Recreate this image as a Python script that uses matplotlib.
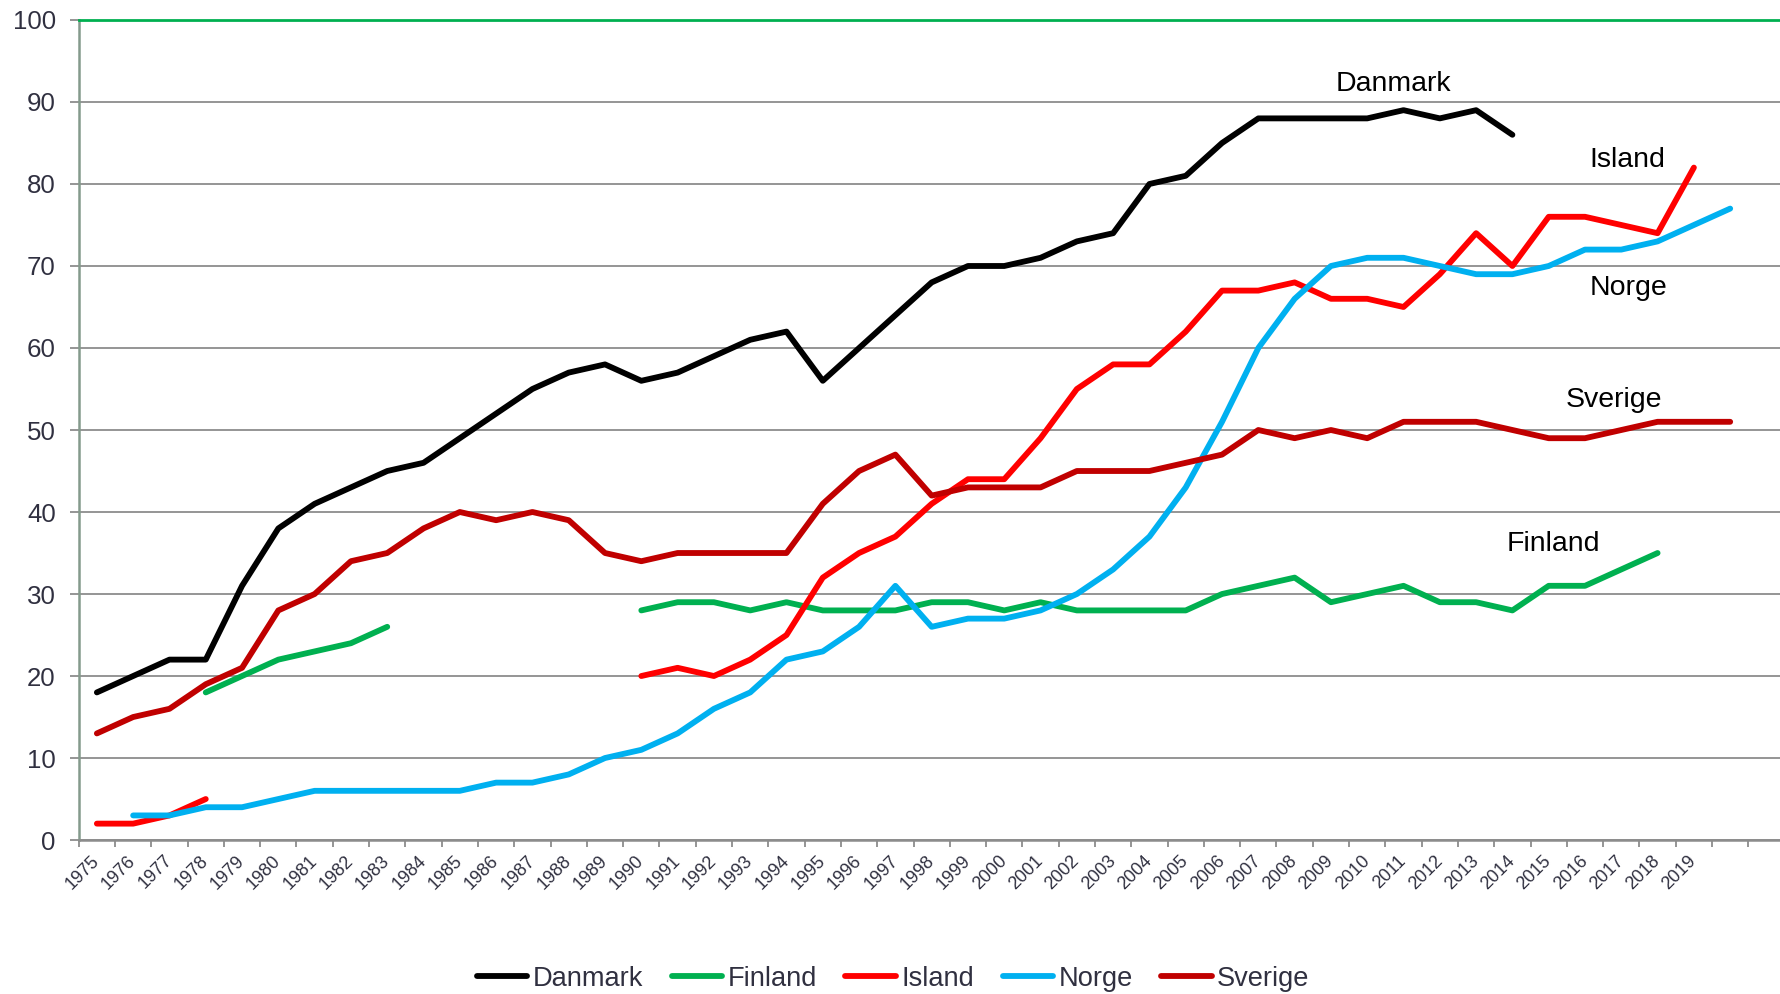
import numpy as np
import matplotlib
matplotlib.use("Agg")
import matplotlib.pyplot as plt

plt.rcParams['font.family'] = ['Liberation Sans', 'DejaVu Sans']

nan = np.nan
years = [str(y) for y in range(1975, 2020)] + ['']

danmark = [18, 20, 22, 22, 31, 38, 41, 43, 45, 46, 49, 52, 55, 57, 58, 56, 57, 59, 61, 62,
           56, 60, 64, 68, 70, 70, 71, 73, 74, 80, 81, 85, 88, 88, 88, 88, 89, 88, 89, 86,
           nan, nan, nan, nan, nan, nan]
finland = [nan, nan, nan, 18, 20, 22, 23, 24, 26, nan, nan, nan, nan, nan, nan, 28, 29, 29, 28, 29,
           28, 28, 28, 29, 29, 28, 29, 28, 28, 28, 28, 30, 31, 32, 29, 30, 31, 29, 29, 28,
           31, 31, 33, 35, nan, nan]
island = [2, 2, 3, 5, nan, nan, nan, nan, nan, nan, nan, nan, nan, nan, nan, 20, 21, 20, 22, 25,
          32, 35, 37, 41, 44, 44, 49, 55, 58, 58, 62, 67, 67, 68, 66, 66, 65, 69, 74, 70,
          76, 76, 75, 74, 82, nan]
norge = [nan, 3, 3, 4, 4, 5, 6, 6, 6, 6, 6, 7, 7, 8, 10, 11, 13, 16, 18, 22,
         23, 26, 31, 26, 27, 27, 28, 30, 33, 37, 43, 51, 60, 66, 70, 71, 71, 70, 69, 69,
         70, 72, 72, 73, 75, 77]
sverige = [13, 15, 16, 19, 21, 28, 30, 34, 35, 38, 40, 39, 40, 39, 35, 34, 35, 35, 35, 35,
           41, 45, 47, 42, 43, 43, 43, 45, 45, 45, 46, 47, 50, 49, 50, 49, 51, 51, 51, 50,
           49, 49, 50, 51, 51, 51]

series = [("Danmark", danmark, "#000000"),
          ("Finland", finland, "#00b050"),
          ("Island", island, "#ff0000"),
          ("Norge", norge, "#00b0f0"),
          ("Sverige", sverige, "#c00000")]

# label name, x (category index), y (baseline value)
labels = [("Danmark", 35.73, 91.3), ("Island", 42.17, 82.1), ("Norge", 42.2, 66.5),
          ("Sverige", 41.8, 52.8), ("Finland", 40.14, 35.2)]

fig = plt.figure(figsize=(17.81, 9.94), dpi=100)
ax = fig.add_axes([0.0442, 0.1549, 0.9558, 0.825])

x = np.arange(len(years))
for name, vals, col in series:
    ax.plot(x, vals, color=col, lw=4.2, label=name,
            solid_capstyle='round', solid_joinstyle='round', zorder=3)

for name, lx, ly in labels:
    ax.text(lx, ly, name, ha='center', va='baseline', fontsize=20.5, color='black')

ax.set_xlim(-0.5, 46.4)
ax.set_ylim(0, 100)
ax.set_yticks(range(0, 101, 10))
ax.yaxis.grid(True, color='#8c8c8c', lw=1.3)
ax.set_axisbelow(True)

ax.set_xticks(x)
ax.set_xticklabels(years, rotation=45, ha='right', va='center', rotation_mode='anchor',
                   fontsize=13, color='#303040')
ax.set_xticks(np.arange(-0.5, 46, 1), minor=True)
ax.tick_params(axis='x', which='major', length=0, pad=13)
ax.tick_params(axis='x', which='minor', length=5, width=1.3, color='#8c8c8c', direction='out')
ax.tick_params(axis='y', length=6.5, width=1.3, color='#8c8c8c', pad=10,
               labelsize=18.6, labelcolor='#303040')

ax.spines['right'].set_visible(False)
ax.spines['top'].set_color('#00b050')
ax.spines['top'].set_linewidth(2)
ax.spines['left'].set_color('#849a8c')
ax.spines['left'].set_linewidth(1.8)
ax.spines['bottom'].set_color('#8c8c8c')
ax.spines['bottom'].set_linewidth(1.8)

leg = fig.legend(loc='center', bbox_to_anchor=(0.5015, 0.0155), ncol=5, frameon=False,
                 fontsize=19.6, handlelength=1.85, handletextpad=0.2, columnspacing=1.05,
                 borderpad=0)
for t in leg.get_texts():
    t.set_color('#303040')

fig.savefig("out.png", dpi=100)
